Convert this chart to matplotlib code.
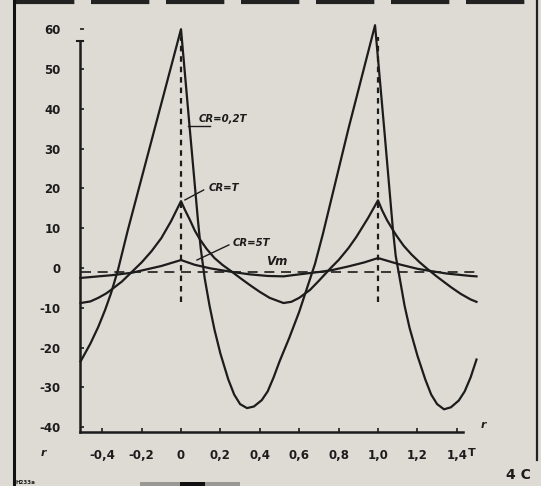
import matplotlib
matplotlib.use("Agg")
import matplotlib.pyplot as plt
from matplotlib.patches import Rectangle
from matplotlib.lines import Line2D

# ---------------- data ----------------
cr02_t = [-0.51, -0.46, -0.42, -0.385, -0.355, -0.32, -0.27, -0.147, 0.0,
          0.04, 0.086, 0.10, 0.12, 0.145, 0.17, 0.20, 0.24, 0.27, 0.30, 0.335,
          0.37, 0.41, 0.44, 0.47, 0.50, 0.55, 0.60, 0.64, 0.68, 0.72, 0.85, 0.985,
          1.035, 1.076, 1.09, 1.11, 1.135, 1.16, 1.20, 1.24, 1.27, 1.30, 1.335,
          1.37, 1.41, 1.44, 1.47, 1.50]
cr02_v = [-23.5, -19.0, -14.8, -10.5, -6.3, -0.5, 9.5, 32.5, 60.0,
          37.5, 12.0, 5.0, -2.5, -9.5, -15.5, -21.5, -28.0, -31.8, -34.2, -35.2,
          -34.8, -33.2, -31.0, -27.5, -23.5, -17.5, -11.0, -5.0, 1.0, 8.5, 35.0, 61.0,
          33.0, 9.5, 3.0, -2.5, -9.5, -15.0, -22.0, -28.0, -31.8, -34.2, -35.5,
          -35.0, -33.3, -31.0, -27.5, -23.0]

crT_t = [-0.51, -0.46, -0.42, -0.38, -0.355, -0.30, -0.25, -0.20, -0.15, -0.10, -0.05, 0.0,
         0.02, 0.046, 0.07, 0.096, 0.13, 0.17, 0.21, 0.26, 0.30, 0.35, 0.40, 0.45, 0.52,
         0.56, 0.60, 0.655, 0.70, 0.76, 0.80, 0.85, 0.89, 0.95, 1.0,
         1.02, 1.046, 1.09, 1.13, 1.17, 1.21, 1.25, 1.30, 1.37, 1.42, 1.47, 1.50]
crT_v = [-8.8, -8.4, -7.5, -6.4, -5.5, -3.4, -1.0, 1.4, 4.2, 7.5, 11.8, 16.8,
         14.6, 12.0, 9.4, 7.2, 4.8, 2.5, 0.8, -1.0, -2.5, -4.3, -6.0, -7.5, -8.8,
         -8.5, -7.5, -5.5, -3.2, 0.0, 2.0, 5.0, 7.8, 12.6, 17.0,
         14.6, 12.0, 8.4, 5.6, 3.4, 1.5, -0.2, -2.2, -4.8, -6.5, -7.9, -8.5]

cr5T_t = [-0.51, -0.35, -0.25, -0.10, 0.0, 0.07, 0.15, 0.26, 0.35, 0.44, 0.52,
          0.60, 0.70, 0.76, 0.85, 0.93, 1.0, 1.11, 1.20, 1.26, 1.35, 1.47, 1.50]
cr5T_v = [-2.5, -1.8, -1.2, 0.5, 2.0, 0.8, -0.1, -1.0, -1.6, -2.0, -2.1,
          -1.6, -1.0, -0.6, 0.4, 1.4, 2.5, 0.9, -0.2, -0.7, -1.4, -2.0, -2.1]

vm_level = -1.0
vm_t = [-0.51, 1.50]

marker_t = [0.0, 1.0]          # dashed verticals
marker_v = [-8.5, 58.0]

x_ticks = [-0.4, -0.2, 0.0, 0.2, 0.4, 0.6, 0.8, 1.0, 1.2, 1.4]
x_labels = ["-0,4", "-0,2", "0", "0,2", "0,4", "0,6", "0,8", "1,0", "1,2", "1,4"]
y_ticks = [-40, -30, -20, -10, 0, 10, 20, 30, 40, 50, 60]
y_labels = ["-40", "-30", "-20", "-10", "0", "10", "20", "30", "40", "50", "60"]

# ---------------- figure ----------------
W, H = 541, 486
bg = "#dedbd4"
ink = "#1c1c1c"
fig = plt.figure(figsize=(W / 100, H / 100), dpi=100, facecolor=bg)

# pixel mapping: T=0 at x=181, 197 px/unit ; v=0 at y=268, 3.98 px/unit
ax_l, ax_r, ax_t, ax_b = 80, 480, 20, 432
ax = fig.add_axes([ax_l / W, (H - ax_b) / H, (ax_r - ax_l) / W, (ax_b - ax_t) / H])
ax.set_facecolor(bg)
ax.set_xlim((ax_l - 181) / 197, (ax_r - 181) / 197)
ax.set_ylim((268 - ax_b) / 3.98, (268 - ax_t) / 3.98)

for s in ("top", "right"):
    ax.spines[s].set_visible(False)
ax.spines["left"].set_bounds((268 - ax_b) / 3.98, 57)
ax.spines["bottom"].set_bounds((ax_l - 181) / 197, 1.43)
for s in ("left", "bottom"):
    ax.spines[s].set_linewidth(1.8)
    ax.spines[s].set_color(ink)

ax.set_xticks(x_ticks)
ax.set_xticklabels(x_labels)
ax.set_yticks(y_ticks)
ax.set_yticklabels(y_labels)
ax.tick_params(axis="both", direction="in", length=3, width=1.2, color=ink,
               labelsize=8.5, labelcolor=ink)
ax.tick_params(axis="x", pad=12)
ax.tick_params(axis="y", pad=14)
for lab in ax.get_xticklabels() + ax.get_yticklabels():
    lab.set_fontweight("bold")

# cap on top of the y axis
ax.plot([-0.528, -0.497], [57, 57], color=ink, lw=1.5, clip_on=False)

# curves
lw = 1.6
ax.plot(cr02_t, cr02_v, color=ink, lw=lw, clip_on=False, solid_joinstyle="round")
ax.plot(crT_t, crT_v, color=ink, lw=lw, clip_on=False, solid_joinstyle="round")
ax.plot(cr5T_t, cr5T_v, color=ink, lw=lw, clip_on=False, solid_joinstyle="round")

# Vm dashed level
ax.plot(vm_t, [vm_level, vm_level], color=ink, lw=1.2, dashes=(6, 4), clip_on=False)

# dashed verticals
for t in marker_t:
    ax.plot([t, t], marker_v, color=ink, lw=1.6, dashes=(2.5, 2.2))

# labels with leaders
lab_kw = dict(fontsize=7.3, fontstyle="italic", fontweight="bold", color=ink, va="center")
ax.text(0.09, 37.4, "CR=0,2T", **lab_kw)
ax.plot([0.036, 0.147], [35.6, 35.6], color=ink, lw=1.0)
ax.text(0.14, 20.1, "CR=T", **lab_kw)
ax.plot([0.02, 0.115], [17.1, 19.6], color=ink, lw=1.0)
ax.text(0.262, 6.3, "CR=5T", **lab_kw)
ax.plot([0.081, 0.243], [2.0, 5.8], color=ink, lw=1.0)
ax.text(0.43, 1.6, "Vm", fontsize=8.5, fontstyle="italic", fontweight="bold", color=ink, va="center")

# ---------------- page decorations (figure pixels) ----------------
def fx(x):
    return x / W

def fy(y):
    return 1 - y / H

fig.add_artist(Line2D([fx(14), fx(14)], [fy(0), fy(486)], color="#111111", lw=2.2))
fig.add_artist(Line2D([fx(537), fx(537)], [fy(0), fy(460)], color="#222222", lw=1.6))
fig.add_artist(Line2D([fx(16), fx(541)], [fy(2), fy(2)], color="#222222", lw=3.0, dashes=(14, 4)))
fig.add_artist(Rectangle((fx(140), fy(486)), fx(100), 4 / H, color="#9a9892", lw=0))
fig.add_artist(Rectangle((fx(180), fy(486)), fx(25), 4 / H, color="#111111", lw=0))

fig.text(fx(483), fy(425), "r", fontsize=8, fontstyle="italic", fontweight="bold", color=ink,
         ha="center", va="center")
fig.text(fx(43), fy(453), "r", fontsize=8, fontstyle="italic", fontweight="bold", color=ink,
         ha="center", va="center")
fig.text(fx(472), fy(453), "T", fontsize=8, fontweight="bold", color=ink, ha="center", va="center")
fig.text(fx(518), fy(475), "4 C", fontsize=10, fontweight="bold", color=ink, ha="center", va="center")
fig.text(fx(16), fy(482), "H233a", fontsize=4, fontweight="bold", color=ink, ha="left", va="center")

fig.savefig("out.png", dpi=100, facecolor=bg)
